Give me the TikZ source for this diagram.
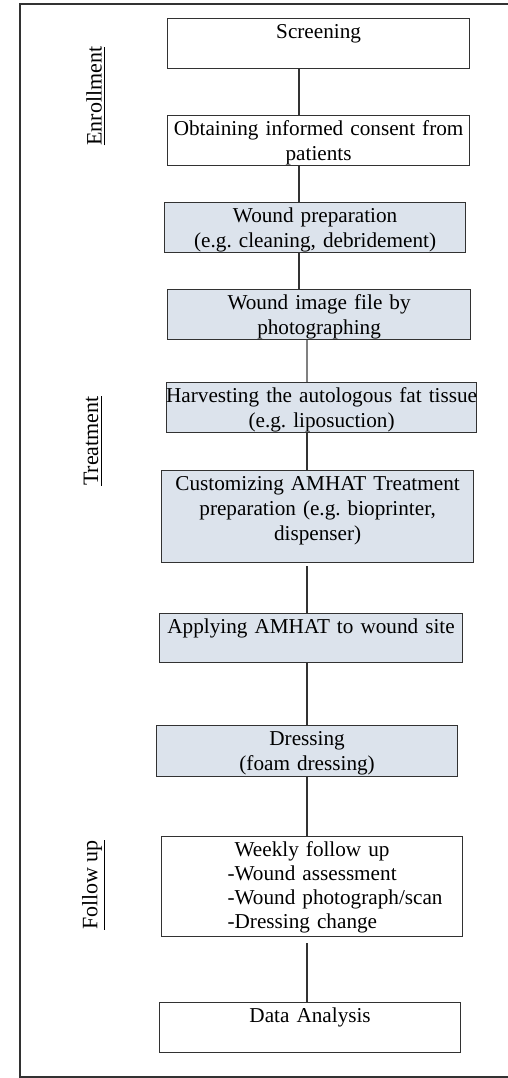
\documentclass[tikz,border=0pt]{standalone}
\usepackage{fontspec}
\setmainfont{Liberation Serif}
\usepackage{xcolor}
\usetikzlibrary{positioning}
\definecolor{stepfill}{RGB}{220,227,236}
\definecolor{frameline}{RGB}{50,50,50}

\begin{document}
\frenchspacing
\begin{tikzpicture}
[every node/.style={inner sep=0pt},
 stepbox/.style={draw=frameline, line width=0.6pt, anchor=north west, align=center,
   font=\fontsize{10.6}{12.5}\selectfont, inner xsep=0pt, inner ysep=1.5pt,
   text width=151pt, text height=8.5pt, text depth=13.5pt},
 treatbox/.style={stepbox, fill=stepfill},
 phase/.style={rotate=90, font=\fontsize{11}{12.5}\selectfont},
 link/.style={line width=0.6pt, color=frameline}]
\useasboundingbox (0pt, 0pt) rectangle (254pt, -539pt);
% outer frame, open on the right
\draw [line width=0.7pt, color=frameline] (256pt, -2pt) -- (10pt, -2pt) -- (10pt, -538.5pt) -- (256pt, -538.5pt);
% phase labels
\node (enrol) [phase] at (48pt, -48pt) {\underline{Enrollment}};
\node (treat) [phase] at (46.5pt, -220.5pt) {\underline{Treatment}};
\node (follow) [phase] at (47pt, -442.5pt) {\underline{Follow up}};
% steps
\node (screen) [stepbox] at (83.5pt, -9pt) {Screening};
\node (consent) [stepbox] at (83.5pt, -57.5pt) {Obtaining informed consent from\\patients};
\node (prep) [treatbox, text width=150.5pt] at (82pt, -101pt) {Wound preparation\\(e.g. cleaning, debridement)};
\node (image) [treatbox, text width=151.5pt] at (83.5pt, -144.5pt) {Wound image file by\\photographing};
\node (harvest) [treatbox, text width=155pt] at (83pt, -191pt) {\makebox[\linewidth]{Harvesting the autologous fat tissue}\\(e.g. liposuction)};
\node (custom) [treatbox, text width=156pt, text depth=34.5pt] at (80.5pt, -235pt) {Customizing AMHAT Treatment\\preparation (e.g. bioprinter,\\dispenser)};
\node (apply) [treatbox, text width=151.5pt, text depth=13pt] at (79.5pt, -306.5pt) {Applying AMHAT to wound site};
\node (dress) [treatbox, text width=150.5pt, text depth=14pt] at (78pt, -362.5pt) {Dressing\\(foam dressing)};
\node (weekly) [stepbox, text width=150.5pt, text depth=38.5pt, font=\fontsize{10.6}{12}\selectfont] at (80.5pt, -418pt) {Weekly follow up\\
  \makebox[\linewidth][l]{\hspace{33pt}-Wound assessment}\\
  \makebox[\linewidth][l]{\hspace{33pt}-Wound photograph/scan}\\
  \makebox[\linewidth][l]{\hspace{33pt}-Dressing change}};
\node (data) [stepbox, text width=150.5pt] at (79.5pt, -501pt) {Data Analysis};
% trunk positions of the connectors
\coordinate (upper) at (149.5pt, 0pt);
\coordinate (lower) at (153.5pt, 0pt);
\draw [link] (screen.south -| upper) -- (consent.north -| upper);
\draw [link] (consent.south -| upper) -- (prep.north -| upper);
\draw [link] (prep.south -| upper) -- (image.north -| upper);
\draw [link, color=gray] (image.south -| lower) -- (harvest.north -| lower);
\draw [link] (harvest.south -| lower) -- (custom.north -| lower);
\draw [link, shorten <=1.5pt] (custom.south -| lower) -- (apply.north -| lower);
\draw [link] (apply.south -| lower) -- (dress.north -| lower);
\draw [link] (dress.south -| lower) -- (weekly.north -| lower);
\draw [link, shorten <=3pt] (weekly.south -| lower) -- (data.north -| lower);
\end{tikzpicture}
\end{document}
